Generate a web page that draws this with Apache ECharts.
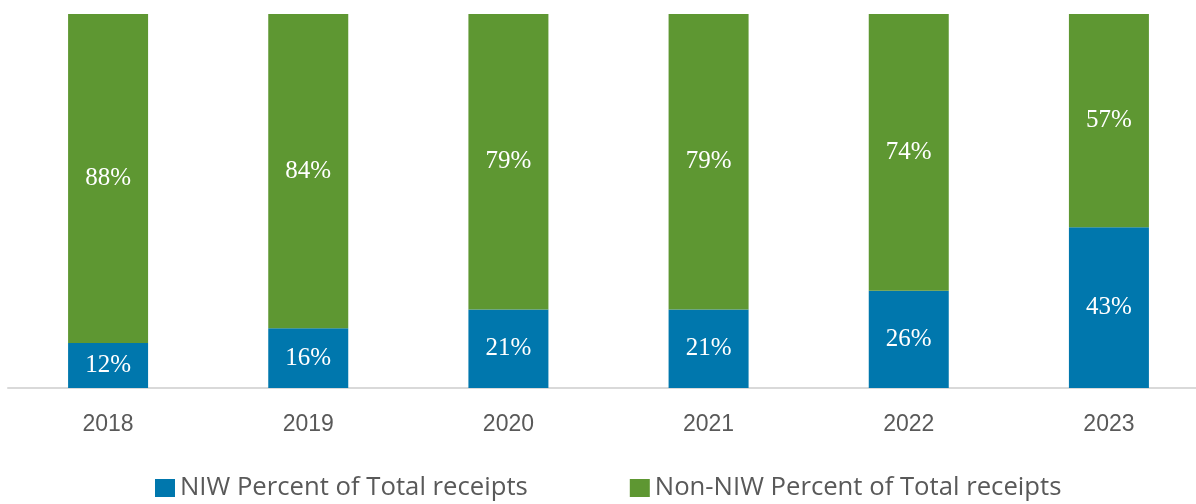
<!DOCTYPE html>
<html>
<head>
<meta charset="utf-8">
<script src="https://cdn.jsdelivr.net/npm/echarts@6/dist/echarts.min.js"></script>
<style>
  html, body { margin: 0; padding: 0; background: #fff; overflow: hidden; }
  /* a bit wider than the window so the six bands keep their 200px pitch */
  #chart { width: 1210px; height: 504px; }
</style>
</head>
<body>
<div id="chart"></div>
<script>
const years = ['2018', '2019', '2020', '2021', '2022', '2023'];
const niwPct = [12, 16, 21, 21, 26, 43];
const nonNiwPct = [88, 84, 79, 79, 74, 57];
const seriesNames = ['NIW Percent of Total receipts', 'Non-NIW Percent of Total receipts'];

const chart = echarts.init(document.getElementById('chart'));

const barLabel = {
  show: true,
  position: 'inside',
  color: '#ffffff',
  fontFamily: 'Liberation Serif',
  fontSize: 25,
  formatter: p => p.value + '%'
};

chart.setOption({
  animation: false,
  grid: { left: 8, top: 14, width: 1201, height: 374 },
  legend: {
    bottom: 3,
    left: 155,
    padding: 0,
    itemWidth: 20,
    itemHeight: 18,
    itemGap: 102,
    icon: 'rect',
    textStyle: { fontFamily: 'Open Sans', fontSize: 25.7, color: '#595959' },
    data: seriesNames
  },
  xAxis: {
    type: 'category',
    data: years,
    axisLine: { lineStyle: { color: '#d9d9d9', width: 2 } },
    axisTick: { show: false },
    axisLabel: { fontFamily: 'Liberation Sans', fontSize: 23, color: '#595959', margin: 25 }
  },
  yAxis: {
    type: 'value',
    min: 0,
    max: 100,
    show: false
  },
  series: [
    {
      name: seriesNames[0],
      type: 'bar',
      stack: 'total',
      barWidth: 80,
      data: niwPct,
      itemStyle: { color: '#0077ad' },
      label: barLabel
    },
    {
      name: seriesNames[1],
      type: 'bar',
      stack: 'total',
      barWidth: 80,
      data: nonNiwPct,
      itemStyle: { color: '#5e9732' },
      label: barLabel
    }
  ]
});
</script>
</body>
</html>
